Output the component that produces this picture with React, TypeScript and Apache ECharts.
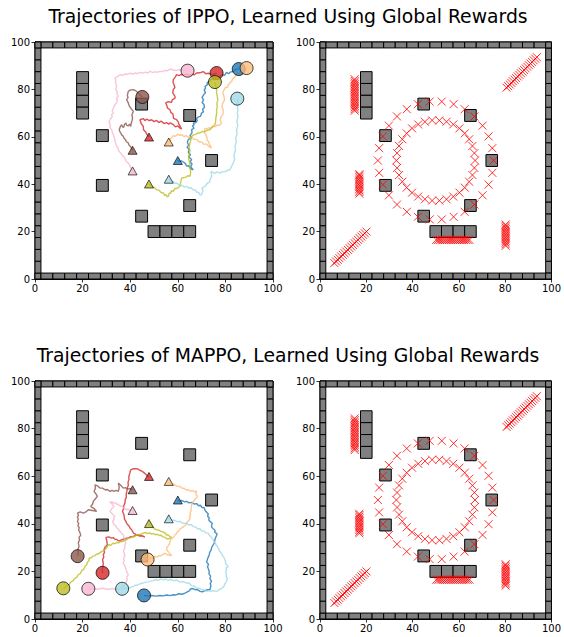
import React, { useEffect, useRef } from 'react';
import * as echarts from 'echarts';

const TITLES = [
  'Trajectories of IPPO, Learned Using Global Rewards',
  'Trajectories of MAPPO, Learned Using Global Rewards',
];
const WALL_POSITIONS = [0, 5, 10, 15, 20, 25, 30, 35, 40, 45, 50, 55, 60, 65, 70, 75, 80, 85, 90, 95, 100];
const CELL = 5;
const OBSTACLES: number[][] = [
  [20, 85], [20, 80], [20, 75], [20, 70], [28.3, 60.5], [28.3, 39.5], [44.8, 73.8], [65, 69],
  [74.2, 50], [65, 31], [44.8, 26.5], [50, 20], [55, 20], [60, 20], [65, 20],
];
// agent order: blue, orange, red, pink, brown, olive, cyan
const AGENT_COLORS = ['#1f77b4', '#ffbb78', '#d62728', '#f7b6d2', '#8c564b', '#bcbd22', '#9edae5'];
const GOALS: number[][] = [[60, 50], [56.2, 57.8], [47.9, 59.9], [41, 45.6], [41, 54.3], [47.9, 40.1], [56.2, 42.1]];
const IPPO_ENDS: number[][] = [[85.6, 88.6], [88.9, 89], [76.3, 86.9], [64.1, 87.9], [45.1, 76.8], [75.6, 83.1], [85, 76.1]];
const MAPPO_ENDS: number[][] = [[45.8, 9.9], [47.3, 25], [28.4, 19.4], [22.4, 12.7], [17.9, 26.4], [11.9, 12.9], [36.6, 12.7]];

const IPPO_BLUE = [[59.9,50.2],[60.8,49.5],[61.5,49.9],[63,48.9],[63.8,47.6],[64.5,47.8],[65.5,46.5],[66.5,46.1],[65.4,47.3],[66,48.5],[65.2,49.4],[65.8,50.4],[64.6,51.5],[65.3,52.5],[64.4,53.5],[64.8,54.6],[63.9,55.6],[64.6,56.5],[64,57.6],[64.4,58.8],[65.6,59.6],[65.1,60.5],[66,61.8],[65.8,63],[66.8,63.6],[66.2,64.6],[66.9,65.2],[66.5,65.8],[67.6,66],[68.2,66.8],[67.8,67.6],[68.6,68.4],[69.5,68.6],[70,70],[70.8,70.6],[70.4,71.6],[71.2,72.4],[71,73.6],[70.2,74.5],[70.8,75.5],[70.2,76.6],[70.9,77.8],[71.6,78.6],[71.1,79.8],[71.7,80.6],[71.4,81.3],[72.5,82],[72.3,82.8],[73.5,83.6],[74.4,84.6],[75,84.1],[76.3,85.5],[77.4,85.2],[78.5,86.2],[79.6,85.9],[80.5,87.2],[81.4,86.6],[82,87.3],[83.3,87.6],[84.2,88.4],[85.6,88.6]];
const IPPO_ORANGE = [[56.2,57.8],[57,59.2],[58.1,60.5],[59,60.2],[60,61.2],[60.8,60.6],[61.6,60.9],[62.6,60.1],[63.5,60.5],[64.6,59.6],[65.8,59.8],[66.8,58.9],[68,58.9],[69,57.8],[70,57.8],[71,56.8],[72,57],[73.2,55.8],[74.2,55.3],[73.4,56.6],[73,57.8],[72.4,58.6],[72.1,60.2],[71.2,61.8],[71.4,63.7],[72.2,63.2],[73,63.8],[74,63.6],[74.9,64.4],[75.8,64.2],[76.5,65],[77.4,64.8],[78.4,65.8],[77.8,67],[78.2,68.5],[79,69.6],[79.1,71.4],[78.5,72.8],[78.8,74],[79.6,75.5],[79.4,77.1],[78.9,78.6],[79.8,80.6],[81,81],[81.2,82],[81.9,82.7],[82.6,83.4],[83.3,84.8],[84,85.2],[84.3,86.1],[85.4,86.9],[86.2,86.7],[87,87.6],[87.8,87.9],[88.9,89]];
const IPPO_RED = [[47.9,59.9],[47,61],[46.5,62],[45.6,63],[45.5,64.4],[44.6,65.6],[44.1,67.2],[45.5,67.7],[46.2,66.8],[46.9,67.5],[48,66.8],[49,67.2],[50,66.4],[51.1,66.9],[52,66],[53,66.6],[54.2,65.6],[55.3,66],[56.2,65.3],[56.8,65.9],[58.1,65.1],[59,64.2],[60,64.6],[61,63.6],[61.6,63.3],[61,64.4],[60.5,65.2],[60.2,66.3],[59.5,67.2],[58.2,67.8],[58,69.5],[57.1,70.3],[56.7,71.4],[55.6,72.2],[55.5,73],[54.9,74.3],[56,74.8],[57.4,74.5],[57.6,75.5],[58,75.8],[58.9,76.4],[58.8,77.1],[57.9,78.5],[58.1,79.9],[58.8,80.8],[58.4,82],[58,83],[58.1,84.1],[58.9,85.2],[59.5,86.2],[60.5,85.8],[61.5,86.3],[62.6,86],[63.7,86.5],[64.8,85.9],[66,86.4],[67,86.2],[67.9,86.9],[69.2,87],[70.7,87.5],[71.8,86.6],[73,86.8],[74.6,86.2],[76.3,86.9]];
const IPPO_PINK = [[41,45.6],[40.4,46.6],[40,47.3],[39.6,48.4],[39.2,48.9],[38.3,49.6],[38,50.5],[37.5,51.4],[37.1,51.8],[36.3,52.5],[36,53.2],[35.3,53.9],[35,54.6],[34.8,55.5],[34.2,56.2],[34,57.2],[33.6,58.1],[33.5,59.3],[33,60.5],[32.6,61.6],[32.2,63],[31.4,64],[31.7,65],[31.1,66.2],[31.5,67.2],[32.5,68.5],[32.1,69.2],[32.9,70],[32.4,71],[33,72],[33.3,72.8],[33.6,73.6],[34.3,74.3],[34.6,75.5],[34.2,76.4],[35,77.1],[34.4,78.2],[34.6,79],[33.9,80],[34.3,81.3],[34.1,82],[33.8,83],[34,84],[33.6,84.8],[34.6,85.4],[35.7,86.2],[36.7,85.9],[37.8,86.5],[38.8,86.3],[39.9,86.9],[41,86.5],[42,86.9],[43,86.7],[44.1,87.2],[45.2,86.9],[46.5,87.3],[47.3,86.9],[48.3,87.6],[49.4,87.2],[50.5,87.4],[51.5,87.3],[52.5,87.6],[53.5,87.5],[54.5,88],[55.6,87.8],[56.7,88.6],[58,88.2],[59.5,88],[60.8,88.3],[62,88.1],[64.1,87.9]];
const IPPO_BROWN = [[41,54.3],[40.5,55.2],[40.2,55.8],[39.5,56.5],[39.2,57.4],[38.4,57.9],[38,58.8],[37.4,59.4],[37.1,60.2],[36.4,60.8],[36,61.7],[35.6,62.3],[35.4,63],[35.8,64.2],[36.4,65.1],[36.8,64.2],[37.3,64],[37.6,65.2],[38.2,65.8],[38.6,64.8],[39.2,64.6],[39.7,65.4],[40.2,64.4],[40.5,66],[40.8,67],[41,67.9],[40.7,69.2],[41.3,70.7],[40.3,72],[39.6,73.1],[39.2,74.3],[38.5,75.7],[39.1,76.5],[38.8,77.5],[39.2,79.2],[40.2,79.8],[41.3,79.9],[42.2,79.5],[43,78.8],[44,77.8],[45.1,76.8]];
const IPPO_OLIVE = [[47.9,40.1],[48.7,39.4],[49.5,38.8],[50.2,38.5],[51.1,37.7],[52.2,37.4],[53,36.5],[53.9,36.3],[54.5,35.2],[55,35.6],[55.6,34.6],[56,34.9],[56.4,36.2],[57,36.2],[57.4,37.3],[58.1,37],[58.8,38.2],[59.5,38.2],[60.3,38.6],[60.9,39.1],[61.2,40.8],[61.6,42.6],[62.5,42.8],[63.5,43],[64.3,43.6],[65.1,43.3],[65.4,44.8],[65.3,46],[64.9,47.5],[65.1,48.9],[64.6,50.4],[64.6,52],[65.1,54],[64.8,56],[65.3,58],[65.8,60.2],[66.6,60.8],[67.5,61],[68.4,61.6],[69.3,61.6],[70.4,62.3],[71.5,62.2],[72.5,62.8],[73.5,63],[74.5,64.2],[75.6,65.1],[75.9,66.5],[76,68],[76.3,69.7],[76.3,71.4],[76.6,72.8],[76.4,74],[76.8,75.5],[76.6,77.1],[76.3,78.6],[76.3,80],[75.6,83.1]];
const IPPO_CYAN = [[56.2,42.1],[57.1,41.3],[58,41.2],[58.8,40.4],[59.5,40.5],[60.6,39.6],[61.5,39.6],[62.6,38.9],[63.7,39.1],[64.6,38.3],[65.5,38.6],[66.3,37.6],[67.2,37.7],[68,36.6],[68.8,36.5],[69.4,35.4],[70,35.6],[70.6,37.5],[70.1,38.4],[71.4,39.1],[72.5,40.5],[73.3,40.8],[73.5,41.9],[74.3,43.5],[73.9,45.4],[74.8,45],[75.5,44.6],[76.5,45.2],[77.7,44.7],[78.8,45.3],[80,45.3],[81,45.9],[81.9,46.1],[82.6,47.5],[83.3,48.9],[83.9,50.6],[83.6,52.5],[84.2,54.2],[84,56],[84.6,57.6],[84.3,59.5],[84.9,61.2],[84.7,63],[85.2,64.7],[84.8,66.5],[85.3,68.2],[85,70],[85.3,71.6],[85,73],[85.2,74.6],[85,76.1]];

const MAPPO_BLUE = [[59.9,49.9],[60.9,49.5],[61.8,49.8],[62.8,49.2],[63.7,49.4],[64.7,48.8],[65.8,49],[66.8,48.3],[67.9,48.5],[68.7,47.6],[69.5,47.8],[70.2,46.8],[71,46.9],[71.5,45.6],[72.8,44.1],[72.5,43.2],[73.2,42.5],[73,41.6],[73.5,41],[74.5,40.2],[74.2,39.5],[74.3,38.5],[74.9,37.9],[75.7,37.2],[75.5,36.5],[76.5,35.8],[76.3,35.1],[75.8,34],[75.5,33],[75.4,32],[74.9,31.2],[74.3,30.2],[74,29],[73.4,28],[73.2,27],[72.9,26.2],[72.6,25.5],[72.3,24.6],[72.1,23.9],[72.9,23],[72.5,22],[73.2,20],[73.1,19],[73.8,18],[73.5,17],[74.2,15.8],[73.6,15],[73.9,14],[73.5,12.3],[72.5,12.3],[71.5,12],[70.4,11.4],[69.3,11.6],[68.3,12.4],[67.3,12.3],[66.3,12.8],[65.4,12.7],[64.8,11.8],[64.2,11.5],[63.6,11.2],[63,10.9],[61.8,10.4],[60.5,10.6],[59.2,10.1],[58.1,10.2],[56.7,9.8],[55.3,10.1],[53.9,9.7],[52.5,9.9],[50.8,9.6],[49,9.9],[47.4,9.7],[45.8,9.9]];
const MAPPO_ORANGE = [[56.2,57.5],[57.4,56.7],[58.5,56.5],[59.7,55.8],[60.9,55.7],[61.8,54.9],[62.6,55],[63.5,54.2],[64.4,54.3],[65.3,53.7],[66.2,54],[67,53.4],[67.9,53.8],[67.6,52.4],[68.2,51.6],[67.9,51],[67.3,50.4],[66.8,49.5],[66.2,49],[65.8,48],[65.7,47],[65.5,46.2],[65.6,45.3],[65.1,44.5],[65.4,43.8],[64.9,43.1],[65.2,42.5],[64.8,41.7],[64.2,41],[63.9,40.5],[63.7,39.8],[63,39.3],[61.9,38.4],[60.9,37.9],[60.5,37],[59.8,36.6],[59.4,35.8],[58.8,35.4],[58.3,34.5],[57.8,34],[57.1,33.4],[56.7,32.6],[56.5,31.6],[56,30.8],[55.4,30],[55.3,29.1],[56.3,27.9],[57.4,26.7],[56.5,26.8],[55.6,27],[54.7,27.6],[53.9,27.3],[53,26.6],[52.1,26.7],[51.3,26],[50.4,26.2],[49.6,25.5],[48.8,25.6],[47.3,25]];
const MAPPO_RED = [[47.9,59.6],[46.7,60.7],[45.5,61.7],[44.7,62.2],[44,62.5],[43.3,63],[42.7,63.1],[41.4,63.2],[40.2,62.7],[39.9,61.4],[39.4,59.9],[39.5,58.7],[39.1,57.5],[39.2,56.2],[38.8,55],[38.6,53.7],[38.3,52.5],[38.4,51.2],[37.9,50.1],[37.8,48.8],[37.3,47.6],[37.2,46.4],[36.8,45.2],[37.3,44],[37.5,43.1],[37.6,42],[38.2,41],[38.6,40],[39.4,39.2],[40,38.1],[40.6,37.5],[41.4,36.1],[42.7,35.4],[43.5,35.3],[44.5,34.9],[45.3,34.7],[46.2,34.4],[45,35],[44,34.8],[43,35.3],[42,35.1],[41.2,34.5],[40.2,34.6],[39.3,34.1],[38.5,34],[37.6,33.7],[36.8,33.4],[35.9,33],[35,32.9],[34.4,33.4],[33.6,33.5],[32.9,34.2],[32.2,34],[31,34.5],[29.8,34.3],[30.1,33.1],[30.4,31.2],[29.5,30.3],[29,29.1],[29.2,28],[28.7,27],[28.9,26],[28.4,24.9],[28.7,23.4],[28.5,22],[28.3,20.8],[28.4,19.4]];
const MAPPO_PINK = [[41,45.6],[40.1,45.6],[39.2,46.1],[38.2,46],[37.4,46.6],[36.6,47.3],[35.8,47.5],[35,48.1],[34.3,48.3],[33.6,48.9],[32.9,48.7],[32.2,49.3],[31.5,49.1],[32.4,48.3],[33.2,47.3],[32.2,46.3],[31.5,45.2],[32.6,44],[33.6,43.1],[33,42.4],[33.2,41.7],[32.6,41],[32.9,40.3],[33.6,39.4],[34,39.1],[34.3,38.3],[35,37.9],[35.4,37],[36,36.6],[36.5,35.8],[37.1,35.4],[37.3,34.5],[37.8,33.7],[37.6,32.8],[38.2,31.9],[37.6,30.8],[37.8,29.8],[37.2,28.8],[37.4,27.7],[37.8,26.6],[37.2,25.6],[37.5,24.6],[37.1,23.5],[37.8,22.2],[38.2,21],[38.6,19.8],[39.2,18.6],[38.6,17.6],[38.7,16.6],[38.4,15.6],[38.2,14.7],[37.5,13.9],[36.8,13.7],[36,12.9],[35.4,12.7],[34.5,12.4],[33.5,12.6],[32.5,12.8],[31.5,12.6],[30.4,12.5],[29.4,12.7],[28.3,12.9],[27.3,12.7],[26,12.5],[24.8,12.7],[22.4,12.7]];
const MAPPO_BROWN = [[41,54.3],[40,54.8],[39,54.6],[38,55.2],[37.1,55],[36,56.2],[35,57.1],[35.4,55.2],[35,53.6],[34.1,54],[33.2,53.6],[32.4,54],[31.5,53.6],[30.4,54.4],[29.4,54.3],[28.4,55],[27.3,55],[26.3,55.9],[25.2,56.4],[25.4,55],[24.8,53.6],[25.6,52.6],[26.2,51.5],[25.3,50.4],[24.5,49.4],[24.2,48.3],[23.4,47.3],[24.8,46.4],[25.9,45.2],[24.1,45.6],[22.4,45.9],[21.4,45],[20.3,44.5],[19,45],[17.8,44.5],[18.3,43.6],[17.8,42.8],[18.2,41.9],[17.8,41],[18.4,40.1],[18,39.2],[18.6,38.4],[18.3,37.5],[18.9,36.3],[19.2,35.1],[18.5,34.4],[18.7,33.3],[18.2,31.9],[18.5,30.5],[18,29.2],[18.2,27.8],[17.9,26.4]];
const MAPPO_OLIVE = [[47.9,40],[48.6,39.2],[49.5,38.8],[50.2,37.9],[51.1,37.5],[52,37.3],[52.9,36.8],[53.8,36.6],[54.6,36.1],[55.3,35.3],[56,35.3],[56.7,34.6],[57.4,34.4],[56.4,33.7],[55.3,33.7],[54.6,34.4],[53.8,34.4],[53,35.2],[52.2,35.1],[51.4,35.6],[50.6,35.4],[49.8,35.9],[49,35.7],[48.1,36.2],[47.2,35.9],[46.3,36.4],[45.5,36.1],[44.1,35.5],[42.7,35.4],[41.8,34.6],[41,34.7],[40.1,34.1],[39.2,34],[38.4,33.2],[37.6,33.3],[36.8,32.5],[36,32.6],[35.2,32],[34.4,32.2],[33.6,31.6],[32.9,31.9],[31.8,31],[30.8,31.2],[30,29.8],[29,28.7],[28.2,28.4],[27.4,28],[26.6,27.3],[25.9,27.3],[25,26.5],[24.3,26.4],[23.5,25.6],[22.8,25.6],[22.6,24.5],[22,23.8],[21.7,22.8],[21,22.1],[20.5,20.9],[19.6,20.3],[19.1,19.2],[18.2,18.6],[17.6,17.6],[16.6,17],[16,16],[15,15.5],[14.4,14.5],[13.5,14.2],[12.8,13.3],[11.9,12.9]];
const MAPPO_CYAN = [[56.2,42.1],[57.4,41.5],[58.5,41.5],[59.7,40.9],[60.9,41],[62.1,40.2],[63.4,40.3],[64.6,39.5],[65.8,39.6],[66.6,38.7],[67.5,38.7],[68.4,37.8],[69.3,37.9],[70.2,36.9],[71,37],[71.9,36.1],[72.8,36.1],[73.3,35.1],[73.9,34.7],[74.5,33.6],[74.9,33.3],[75.3,32.2],[75.8,31.9],[76.2,30.9],[76.6,30.5],[77,29.6],[77.3,29.3],[77.6,28.3],[78,28.1],[78.5,27.3],[78.7,27],[79.1,26.1],[79.4,25.9],[79.7,25],[80,24.4],[80.1,23.5],[80.5,22.8],[81.2,22],[80.2,21.4],[80.6,20.6],[80,20],[80.4,19],[80.3,18],[80.8,17],[80.5,16.1],[80.2,15.3],[79.7,14.7],[79.5,13.8],[78.9,13.3],[78.1,12.6],[77.5,12.5],[76.8,11.8],[76.1,11.6],[75.1,11.9],[74.1,11.6],[73.1,11.9],[72.1,11.6],[71,12.2],[70,12.3],[69,12.9],[67.9,13],[66.9,13.8],[65.8,14],[64.8,15],[63.7,15.1],[62.3,15.7],[60.9,15.6],[59.5,16.3],[58.1,16.1],[57.1,16.6],[56,16.3],[55,16.8],[53.9,16.5],[52.9,16.8],[51.8,16.3],[50.8,16.6],[49.7,16.1],[48.6,15.9],[47.6,15.6],[46.5,15.5],[45.5,15.1],[44.4,14.9],[43.4,14.4],[42.3,14.2],[41.3,13.7],[40.6,13.5],[39.9,13.2],[39.2,12.6],[38.5,12.7],[36.6,12.7]];

const IPPO_PATHS = [IPPO_BLUE, IPPO_ORANGE, IPPO_RED, IPPO_PINK, IPPO_BROWN, IPPO_OLIVE, IPPO_CYAN];
const MAPPO_PATHS = [MAPPO_BLUE, MAPPO_ORANGE, MAPPO_RED, MAPPO_PINK, MAPPO_BROWN, MAPPO_OLIVE, MAPPO_CYAN];

// candidate positions (red crosses) in the right-hand panels
const OUTER_RING = [[75, 50], [74.45, 55.2], [72.84, 60.17], [70.23, 64.69], [66.73, 68.58], [62.5, 71.65], [57.73, 73.78], [52.61, 74.86], [47.39, 74.86], [42.27, 73.78], [37.5, 71.65], [33.27, 68.58], [29.77, 64.69], [27.16, 60.17], [25.55, 55.2], [25, 50], [25.55, 44.8], [27.16, 39.83], [29.77, 35.31], [33.27, 31.42], [37.5, 28.35], [42.27, 26.22], [47.39, 25.14], [52.61, 25.14], [57.73, 26.22], [62.5, 28.35], [66.73, 31.42], [70.23, 35.31], [72.84, 39.83], [74.45, 44.8]];
const INNER_RING = [[67, 50], [66.71, 53.12], [65.85, 56.14], [64.45, 58.95], [62.56, 61.45], [60.24, 63.57], [57.58, 65.22], [54.65, 66.35], [51.57, 66.93], [48.43, 66.93], [45.35, 66.35], [42.42, 65.22], [39.76, 63.57], [37.44, 61.45], [35.55, 58.95], [34.15, 56.14], [33.29, 53.12], [33, 50], [33.29, 46.88], [34.15, 43.86], [35.55, 41.05], [37.44, 38.55], [39.76, 36.43], [42.42, 34.78], [45.35, 33.65], [48.43, 33.07], [51.57, 33.07], [54.65, 33.65], [57.58, 34.78], [60.24, 36.43], [62.56, 38.55], [64.45, 41.05], [65.85, 43.86], [66.71, 46.88]];
const DIAG_LOW = [[6.2, 6.7], [6.93, 7.4], [7.66, 8.1], [8.39, 8.8], [9.12, 9.5], [9.85, 10.2], [10.58, 10.9], [11.31, 11.6], [12.04, 12.3], [12.77, 13], [13.5, 13.7], [14.23, 14.4], [14.96, 15.1], [15.69, 15.8], [16.42, 16.5], [17.15, 17.2], [17.88, 17.9], [18.61, 18.6], [19.34, 19.3], [20.07, 20]];
const DIAG_HIGH = [[80.6, 80.7], [81.29, 81.38], [81.98, 82.06], [82.67, 82.74], [83.36, 83.42], [84.05, 84.1], [84.74, 84.78], [85.43, 85.46], [86.12, 86.14], [86.81, 86.82], [87.5, 87.5], [88.19, 88.18], [88.88, 88.86], [89.57, 89.54], [90.26, 90.22], [90.95, 90.9], [91.64, 91.58], [92.33, 92.26], [93.02, 92.94], [93.7, 93.6]];
const COL_LEFT_TOP = [[15, 71], [15, 71.7], [15, 72.4], [15, 73.1], [15, 73.8], [15, 74.5], [15, 75.2], [15, 75.9], [15, 76.6], [15, 77.3], [15, 78], [15, 78.7], [15, 79.4], [15, 80.1], [15, 80.8], [15, 81.5], [15, 82.2], [15, 82.9], [15, 83.6], [15, 84.3]];
const COL_LEFT_MID = [[17, 36], [17, 36.7], [17, 37.4], [17, 38.1], [17, 38.8], [17, 39.5], [17, 40.2], [17, 40.9], [17, 41.6], [17, 42.3], [17, 43], [17, 43.7], [17, 44.2]];
const COL_RIGHT_LOW = [[80.2, 14], [80.2, 14.7], [80.2, 15.4], [80.2, 16.1], [80.2, 16.8], [80.2, 17.5], [80.2, 18.2], [80.2, 18.9], [80.2, 19.6], [80.2, 20.3], [80.2, 21], [80.2, 21.7], [80.2, 22.4], [80.2, 23]];
const ROW_BOTTOM = [[50.2, 16.5], [51, 16.5], [51.8, 16.5], [52.6, 16.5], [53.4, 16.5], [54.2, 16.5], [55, 16.5], [55.8, 16.5], [56.6, 16.5], [57.4, 16.5], [58.2, 16.5], [59, 16.5], [59.8, 16.5], [60.6, 16.5], [61.4, 16.5], [62.2, 16.5], [63, 16.5], [63.8, 16.5], [64.6, 16.5]];
const CANDIDATES = [...OUTER_RING, ...INNER_RING, ...DIAG_LOW, ...DIAG_HIGH, ...COL_LEFT_TOP, ...COL_LEFT_MID, ...COL_RIGHT_LOW, ...ROW_BOTTOM];

const GRIDS = [
  { left: 35, top: 42, width: 238, height: 237 },
  { left: 320, top: 42, width: 238, height: 237 },
  { left: 35, top: 381, width: 238, height: 238 },
  { left: 320, top: 381, width: 238, height: 238 },
];
const FONT = 'DejaVu Sans';

function buildOption() {
  const walls: number[][] = [];
  WALL_POSITIONS.forEach((p) => {
    walls.push([0, p, CELL], [100, p, CELL], [p, 0, CELL], [p, 100, CELL]);
  });
  const blocks = [...walls, ...OBSTACLES.map((o) => [o[0], o[1], CELL])];

  const renderBlock = (params: any, api: any) => {
    const cx = api.value(0);
    const cy = api.value(1);
    const s = api.value(2);
    const p0 = api.coord([cx - s / 2, cy + s / 2]);
    const p1 = api.coord([cx + s / 2, cy - s / 2]);
    const cs = params.coordSys;
    const shape = echarts.graphic.clipRectByRect(
      { x: p0[0], y: p0[1], width: p1[0] - p0[0], height: p1[1] - p0[1] },
      { x: cs.x, y: cs.y, width: cs.width, height: cs.height }
    );
    if (!shape) return null;
    return { type: 'rect', shape, style: { fill: '#808080', stroke: '#000', lineWidth: 1 } };
  };

  const series: any[] = [];
  GRIDS.forEach((_, i) => {
    series.push({
      type: 'custom',
      xAxisIndex: i,
      yAxisIndex: i,
      renderItem: renderBlock,
      data: blocks,
      encode: { x: 0, y: 1 },
      z: 1,
      silent: true,
    });
  });

  [IPPO_PATHS, MAPPO_PATHS].forEach((paths, k) => {
    const gi = k * 2;
    paths.forEach((pts, a) => {
      series.push({
        type: 'line',
        xAxisIndex: gi,
        yAxisIndex: gi,
        data: pts,
        showSymbol: false,
        symbol: 'none',
        lineStyle: { color: AGENT_COLORS[a], width: 1.4, opacity: 0.8 },
        z: 2,
        silent: true,
      });
    });
    series.push({
      type: 'scatter',
      xAxisIndex: gi,
      yAxisIndex: gi,
      symbol: 'triangle',
      symbolSize: [9, 8],
      data: GOALS.map((g, a) => ({ value: g, itemStyle: { color: AGENT_COLORS[a] } })),
      itemStyle: { borderColor: '#000', borderWidth: 0.8 },
      z: 3,
      silent: true,
    });
    const ends = k === 0 ? IPPO_ENDS : MAPPO_ENDS;
    series.push({
      type: 'scatter',
      xAxisIndex: gi,
      yAxisIndex: gi,
      symbol: 'circle',
      symbolSize: 13,
      data: ends.map((e, a) => ({ value: e, itemStyle: { color: AGENT_COLORS[a] } })),
      itemStyle: { borderColor: '#000', borderWidth: 0.9 },
      z: 4,
      silent: true,
    });
  });

  [1, 3].forEach((gi) => {
    series.push({
      type: 'scatter',
      xAxisIndex: gi,
      yAxisIndex: gi,
      symbol: 'path://M0,0L10,10M10,0L0,10',
      symbolSize: 8,
      data: CANDIDATES,
      itemStyle: { color: 'rgba(0,0,0,0)', borderColor: '#ff0000', borderWidth: 1 },
      z: 3,
      silent: true,
    });
  });

  const axisCommon = {
    type: 'value',
    min: 0,
    max: 100,
    interval: 20,
    splitLine: { show: false },
    axisLine: { show: true, onZero: false, lineStyle: { color: '#000', width: 1 } },
    axisTick: { show: true, length: 3.5, lineStyle: { color: '#000', width: 0.8 } },
    axisLabel: { fontFamily: FONT, fontSize: 10, color: '#000' },
  };

  return {
    animation: false,
    backgroundColor: '#fff',
    grid: GRIDS.map((g) => ({ ...g, show: true, borderColor: '#000', borderWidth: 1, backgroundColor: '#fff' })),
    xAxis: GRIDS.map((_, i) => ({ ...axisCommon, gridIndex: i, axisLabel: { ...axisCommon.axisLabel, margin: 4 } })),
    yAxis: GRIDS.map((_, i) => ({ ...axisCommon, gridIndex: i, axisLabel: { ...axisCommon.axisLabel, margin: 5 } })),
    graphic: [
      { type: 'text', x: 288, y: 16, style: { text: TITLES[0], fontFamily: FONT, fontSize: 18.8, fill: '#000', textAlign: 'center', textVerticalAlign: 'middle' } },
      { type: 'text', x: 288, y: 355, style: { text: TITLES[1], fontFamily: FONT, fontSize: 18.8, fill: '#000', textAlign: 'center', textVerticalAlign: 'middle' } },
    ],
    series,
  };
}

export default function App() {
  const ref = useRef<HTMLDivElement>(null);
  useEffect(() => {
    if (!ref.current) return;
    const chart = echarts.init(ref.current, undefined, { renderer: 'svg' });
    chart.setOption(buildOption() as any);
    return () => chart.dispose();
  }, []);
  return <div ref={ref} style={{ position: 'fixed', left: 0, top: 0, width: 564, height: 637, background: '#fff' }} />;
}
